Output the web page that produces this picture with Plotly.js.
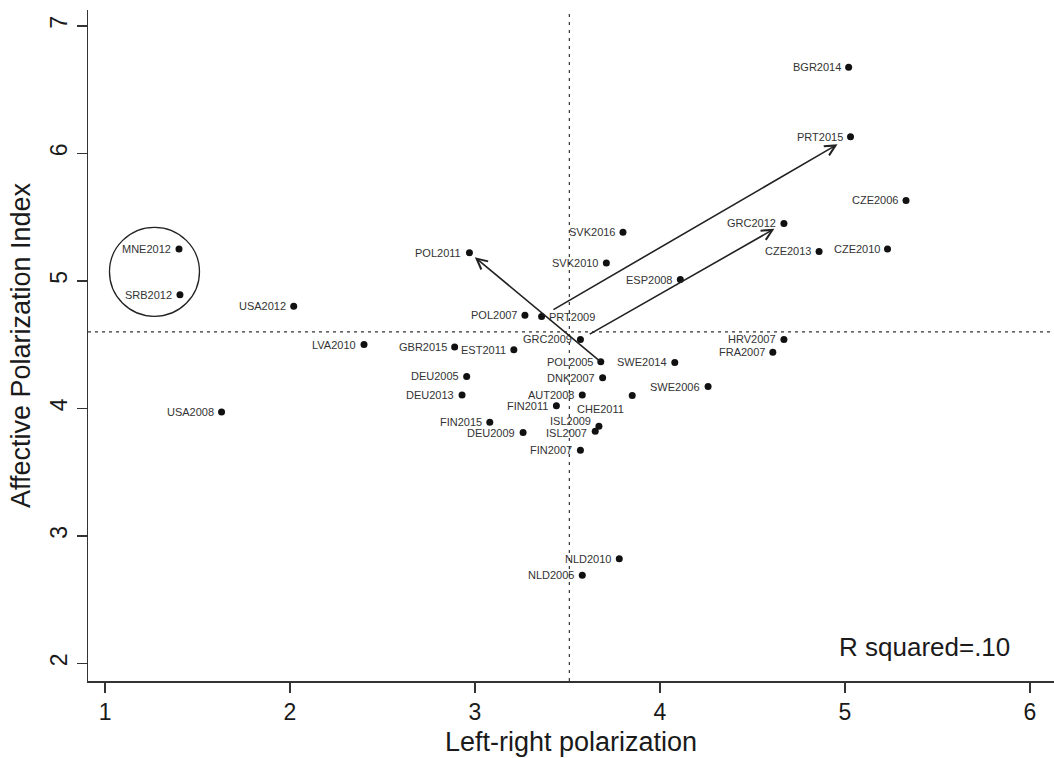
<!DOCTYPE html>
<html>
<head>
<meta charset="utf-8">
<script src="https://cdn.plot.ly/plotly-3.0.1.min.js"></script>
<style>
  html, body { margin: 0; padding: 0; background: #ffffff; }
  #chart { width: 1054px; height: 758px; }
</style>
</head>
<body>
<div id="chart"></div>
<script>
// ---- data ----
const labels = ["BGR2014","PRT2015","CZE2006","GRC2012","SVK2016","CZE2010","CZE2013","POL2011","SVK2010","ESP2008",
                "MNE2012","SRB2012","USA2012","POL2007","PRT2009","GRC2009","HRV2007","LVA2010","GBR2015","EST2011",
                "FRA2007","POL2005","SWE2014","DEU2005","DNK2007","SWE2006","DEU2013","AUT2008","CHE2011","FIN2011",
                "USA2008","FIN2015","ISL2009","ISL2007","DEU2009","FIN2007","NLD2010","NLD2005"];
const leftRightPol = [5.02, 5.03, 5.33, 4.67, 3.80, 5.23, 4.86, 2.97, 3.71, 4.11,
                      1.40, 1.405, 2.02, 3.27, 3.36, 3.57, 4.67, 2.40, 2.89, 3.21,
                      4.61, 3.68, 4.08, 2.955, 3.69, 4.26, 2.93, 3.58, 3.85, 3.44,
                      1.63, 3.08, 3.67, 3.65, 3.26, 3.57, 3.78, 3.58];
const affPolIndex = [6.675, 6.13, 5.63, 5.45, 5.38, 5.25, 5.23, 5.22, 5.14, 5.01,
                     5.25, 4.89, 4.80, 4.73, 4.72, 4.54, 4.54, 4.50, 4.48, 4.46,
                     4.44, 4.365, 4.36, 4.25, 4.24, 4.17, 4.105, 4.105, 4.10, 4.02,
                     3.97, 3.89, 3.86, 3.82, 3.81, 3.67, 2.82, 2.69];
const meanLeftRight = 3.51;
const meanAffective = 4.60;
const arrowPairs = [["PRT2009","PRT2015"], ["GRC2009","GRC2012"], ["POL2005","POL2011"]];
const circled = ["MNE2012","SRB2012"];
const rSquaredText = "R squared=.10";
const xTicks = [1, 2, 3, 4, 5, 6];
const yTicks = [2, 3, 4, 5, 6, 7];

// ---- styles (label placement, arrow gaps) ----
const labelShift = {
  "PRT2009": {anchor: "left", dx: 5, dy: 0},
  "CHE2011": {anchor: "right", dx: -6, dy: -13},
  "ISL2009": {anchor: "right", dx: -6, dy: 5},
  "ISL2007": {anchor: "right", dx: -6, dy: -2}
};
const arrowGaps = [[12, 15], [9, 11], [0, 7]]; // [start, end] in px

const idx = {};
labels.forEach((l, i) => idx[l] = i);

const FONT = "Liberation Sans, Arial, Helvetica, sans-serif";

const trace = {
  type: "scatter",
  mode: "markers",
  x: leftRightPol,
  y: affPolIndex,
  text: labels,
  marker: {color: "#111111", size: 7},
  hoverinfo: "text+x+y",
  showlegend: false
};

const annotations = [];
labels.forEach((l, i) => {
  const s = labelShift[l] || {anchor: "right", dx: -6, dy: 0};
  annotations.push({
    x: leftRightPol[i], y: affPolIndex[i], xref: "x", yref: "y",
    text: l, showarrow: false, xanchor: s.anchor, yanchor: "middle",
    xshift: s.dx, yshift: s.dy,
    font: {family: FONT, size: 11, color: "#333333"}
  });
});

arrowPairs.forEach((p, k) => {
  const a = idx[p[0]], b = idx[p[1]];
  annotations.push({
    x: leftRightPol[b], y: affPolIndex[b], xref: "x", yref: "y",
    ax: leftRightPol[a], ay: affPolIndex[a], axref: "x", ayref: "y",
    text: "", showarrow: true, arrowhead: 5, arrowsize: 1.3, arrowwidth: 1.6,
    arrowcolor: "#222222", startstandoff: arrowGaps[k][0], standoff: arrowGaps[k][1]
  });
});

annotations.push({
  xref: "paper", yref: "paper", x: 0.957, y: 0.05, xanchor: "right", yanchor: "middle",
  text: rSquaredText, showarrow: false,
  font: {family: FONT, size: 26, color: "#1a1a1a"}
});

// circle around highlighted cases
const cx = circled.reduce((s, l) => s + leftRightPol[idx[l]], 0) / circled.length;
const cy = circled.reduce((s, l) => s + affPolIndex[idx[l]], 0) / circled.length;

const shapes = [
  {type: "line", xref: "paper", yref: "y", x0: 0, x1: 1, y0: meanAffective, y1: meanAffective,
   line: {color: "#333333", width: 1.2, dash: "3px,4px"}},
  {type: "line", xref: "x", yref: "paper", x0: meanLeftRight, x1: meanLeftRight, y0: 0, y1: 1,
   line: {color: "#333333", width: 1.2, dash: "3px,5px"}},
  {type: "circle", xref: "x", yref: "y", xsizemode: "pixel", ysizemode: "pixel",
   xanchor: cx, yanchor: cy, x0: -70, x1: 20, y0: -44.5, y1: 44.5,
   line: {color: "#222222", width: 1.3}}
];

const axisCommon = {
  showgrid: false, zeroline: false, showline: true, linecolor: "#333333", linewidth: 1.5,
  ticks: "outside", ticklen: 10, tickwidth: 1.5, tickcolor: "#333333",
  tickfont: {family: FONT, size: 23, color: "#1a1a1a"}
};

const layout = {
  width: 1054, height: 758,
  margin: {l: 88, r: 0, t: 10, b: 77},
  paper_bgcolor: "#ffffff", plot_bgcolor: "#ffffff",
  font: {family: FONT},
  xaxis: Object.assign({}, axisCommon, {
    range: [0.908, 6.13], tickvals: xTicks, ticktext: xTicks.map(String),
    title: {text: "Left-right polarization", font: {family: FONT, size: 27, color: "#1a1a1a"}, standoff: 8}
  }),
  yaxis: Object.assign({}, axisCommon, {
    range: [1.861, 7.124], tickvals: yTicks, ticktext: yTicks.map(String), tickangle: -90,
    title: {text: "Affective Polarization Index", font: {family: FONT, size: 27, color: "#1a1a1a"}, standoff: 8}
  }),
  shapes: shapes,
  annotations: annotations,
  showlegend: false
};

Plotly.newPlot("chart", [trace], layout, {displayModeBar: false, staticPlot: true});
</script>
</body>
</html>
